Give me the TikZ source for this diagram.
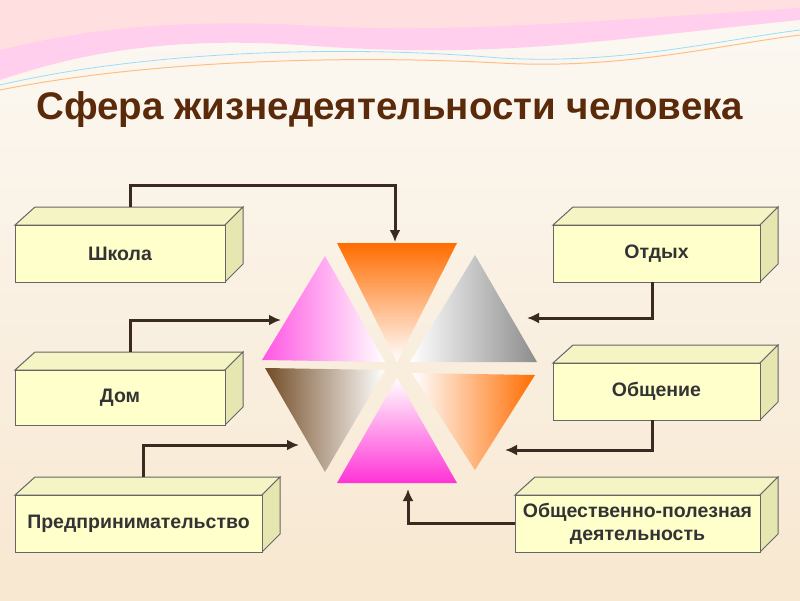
\documentclass[tikz,border=0pt]{standalone}
\usepackage{fontspec}
\setmainfont{Liberation Sans}
\usetikzlibrary{arrows.meta}
\definecolor{bgc}{HTML}{F6F0E2}
\definecolor{boxf}{HTML}{FFFFCC}
\definecolor{boxs}{HTML}{E6E6B0}
\definecolor{boxt}{HTML}{F4F4C4}
\definecolor{titc}{HTML}{5A2A0A}
\definecolor{linec}{HTML}{3A2A20}
\tikzset{
  lbl/.style={font=\bfseries\fontsize{19.5}{23}\selectfont, text=black!80, align=center},
  conn/.style={draw=linec, line width=3pt, -{Latex[length=12pt,width=11pt]}},
  boxline/.style={draw=black!60, line width=1pt}
}
\newcommand{\cube}[5]{%
  \fill[boxt,boxline] (#2,#3) -- (#2+20,#3-18) -- (#4+18,#3-18) -- (#4,#3) -- cycle;
  \fill[boxs,boxline] (#4,#3) -- (#4+18,#3-18) -- (#4+18,#5-18) -- (#4,#5) -- cycle;
  \fill[boxf,boxline] (#2,#3) rectangle (#4,#5);
  \coordinate (#1) at ({(#2+#4)/2},{(#3+#5)/2});
  \coordinate (#1w) at (#2,{(#3+#5)/2});
}
\begin{document}
\begin{tikzpicture}[x=1pt,y=-1pt]
\useasboundingbox (0,0) rectangle (800,600);
\shade[top color=white!60!bgc, bottom color=bgc!90!orange!90] (0,0) rectangle (800,600);
\fill[pink!70!magenta!40] (0,0) -- (800,0) -- (800,20) .. controls (600,40) and (500,60) .. (300,45) .. controls (150,35) and (60,60) .. (0,80) -- cycle;
\fill[pink!50!white] (0,0) -- (800,0) -- (800,8) .. controls (600,20) and (450,35) .. (300,25) .. controls (150,18) and (60,35) .. (0,50) -- cycle;
\draw[cyan!40, line width=0.8pt] (0,85) .. controls (150,50) and (350,45) .. (500,58) .. controls (620,65) and (720,40) .. (800,30);
\draw[orange!50, line width=1pt] (0,90) .. controls (150,60) and (350,55) .. (500,63) .. controls (620,70) and (720,45) .. (800,35);
\node[font=\bfseries\fontsize{38.5}{44}\selectfont, text=titc] (title) at (390,110) {Сфера жизнедеятельности человека};
\shade[top color=orange!85!red, bottom color=white] (337,243) -- (457,243) -- (397,362) -- cycle;
\shade[left color=magenta!55!pink, right color=white] (325,256) -- (262,360) -- (385,362) -- cycle;
\shade[right color=black!45, left color=white] (475,255) -- (410,362) -- (537,362) -- cycle;
\shade[left color=brown!60!black, right color=white] (265,368) -- (385,370) -- (325,472) -- cycle;
\shade[bottom color=magenta!80!red!80, top color=white] (397,378) -- (337,483) -- (457,483) -- cycle;
\shade[right color=orange!85!red, left color=white] (412,373) -- (535,375) -- (475,470) -- cycle;
\coordinate (tS) at (395,242);
\coordinate (tD) at (281,320);
\coordinate (tP) at (299,445);
\coordinate (tO) at (527,318);
\coordinate (tC) at (505,450);
\coordinate (tG) at (408,489);
\cube{shk}{15}{225}{225}{282}
\node[lbl] (nshk) at (shk) {Школа};
\cube{otd}{553}{225}{760}{282}
\node[lbl] (notd) at (otd) {Отдых};
\cube{dom}{15}{370}{225}{425}
\node[lbl] (ndom) at (dom) {Дом};
\cube{obs}{553}{363}{760}{420}
\node[lbl] (nobs) at (obs) {Общение};
\cube{pre}{15}{495}{262}{552}
\node[lbl] (npre) at (pre) {Предпринимательство};
\cube{opd}{515}{495}{760}{552}
\node[lbl] (nopd) at (opd) {Общественно-полезная\\деятельность};
\draw[conn] (130,207) |- (395,185) -- (tS);
\draw[conn] (130,352) |- (tD);
\draw[conn] (143,477) |- (tP);
\draw[conn] (652,282) |- (tO);
\draw[conn] (652,420) |- (tC);
\draw[conn] (opdw) -| (tG);
\end{tikzpicture}
\end{document}
